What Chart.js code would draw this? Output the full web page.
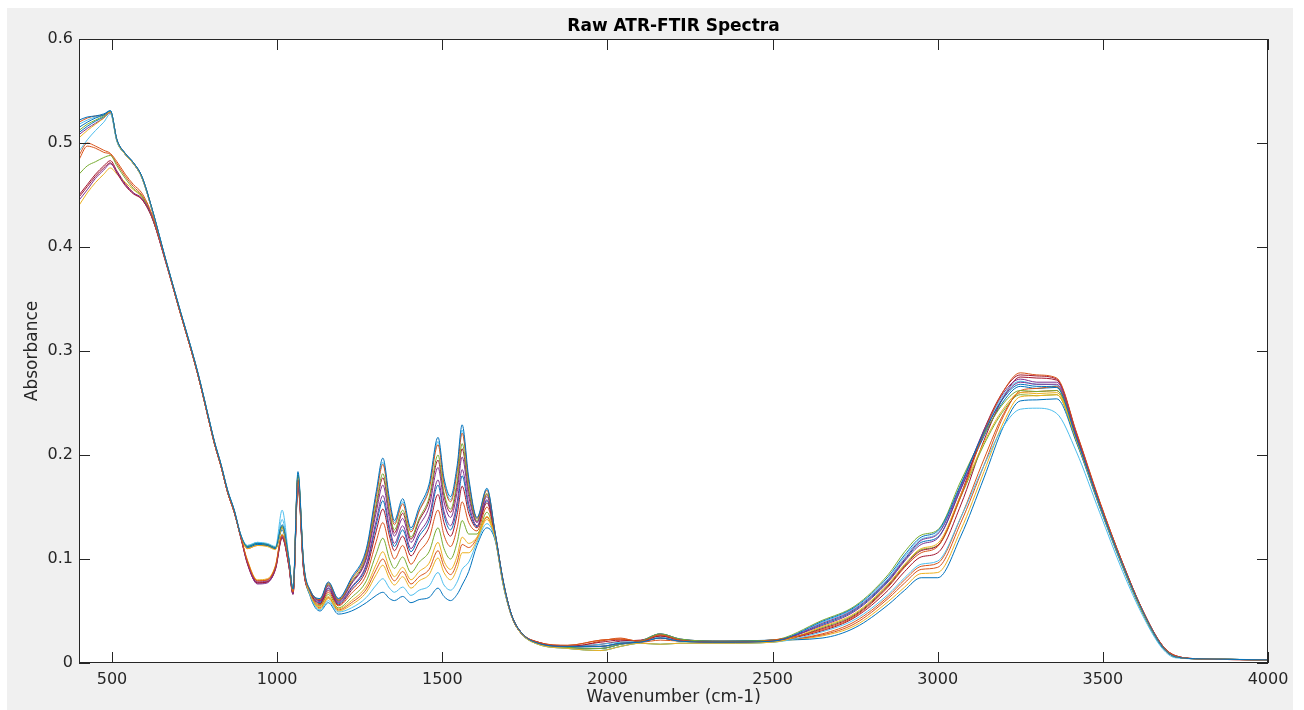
<!DOCTYPE html>
<html>
<head>
<meta charset="utf-8">
<title>Raw ATR-FTIR Spectra</title>
<script src="https://cdn.jsdelivr.net/npm/chart.js@4.4.0/dist/chart.umd.min.js"></script>
<style>
  html, body { margin: 0; padding: 0; background: #ffffff; }
  #wrap { width: 1304px; height: 710px; }
</style>
</head>
<body>
<div id="wrap"><canvas id="spectra" width="1304" height="710"></canvas></div>
<script>
// wavenumber grid (cm-1), denser where the bands are
const wavenumbers = [
  400, 425, 450, 475, 495, 515, 540, 565, 590, 620,
  660, 700, 760, 800, 810, 830, 850, 870, 890,
  910, 940, 970, 995, 1015, 1035, 1048, 1063, 1080,
  1100, 1130, 1155, 1185, 1225, 1270, 1300, 1320, 1340, 1355, 1380, 1405, 1430,
  1460, 1487, 1505, 1525, 1545, 1560, 1580, 1605, 1635, 1660, 1685, 1710, 1740,
  1790, 1880, 1980, 2040, 2100, 2160, 2220, 2350, 2500,
  2650, 2750, 2850, 2900, 2950, 3000, 3070, 3140, 3200, 3250, 3300, 3360,
  3420, 3490, 3560, 3620, 3680, 3720, 3800, 4000
];

const xTicks = [500, 1000, 1500, 2000, 2500, 3000, 3500, 4000];
const yTicks = [0, 0.1, 0.2, 0.3, 0.4, 0.5, 0.6];

// absorbance, one array per spectrum
const spectrum01 = [
  .522, .525, .526, .528, .531, .503, .490, .481, .468, .438,
  .391, .346, .279, .226, .213, .191, .166, .147, .123,
  .112, .115, .114, .111, .133, .101, .071, .184, .097,
  .070, .062, .078, .062, .082, .110, .165, .197, .158, .137, .158, .130, .150,
  .172, .217, .178, .160, .190, .229, .178, .140, .168, .125, .078, .046, .029,
  .019, .016, .016, .019, .020, .024, .021, .020, .021,
  .040, .054, .083, .104, .121, .127, .172, .222, .255, .268, .266, .265,
  .216, .152, .094, .050, .016, .006, .004, .003
];
const spectrum02 = [
  .488, .500, .497, .493, .490, .482, .470, .460, .452, .432,
  .389, .344, .277, .224, .211, .189, .164, .145, .121,
  .098, .079, .080, .093, .123, .096, .068, .176, .092,
  .070, .061, .077, .061, .080, .107, .160, .191, .153, .133, .153, .126, .146,
  .167, .210, .172, .155, .184, .221, .174, .139, .166, .125, .078, .046, .029,
  .020, .017, .022, .023, .021, .027, .022, .020, .022,
  .032, .045, .073, .092, .106, .112, .160, .222, .262, .279, .277, .274,
  .222, .156, .096, .051, .017, .007, .004, .003
];
const spectrum03 = [
  .505, .512, .518, .524, .530, .502, .489, .480, .467, .437,
  .390, .345, .278, .225, .212, .190, .165, .146, .122,
  .110, .113, .112, .109, .130, .099, .069, .178, .094,
  .066, .054, .064, .052, .060, .074, .095, .107, .091, .083, .092, .080, .088,
  .096, .116, .098, .090, .103, .121, .115, .121, .141, .120, .075, .045, .028,
  .018, .014, .012, .016, .019, .018, .019, .019, .020,
  .035, .048, .076, .095, .110, .115, .162, .212, .245, .260, .259, .260,
  .214, .151, .093, .049, .016, .006, .004, .003
];
const spectrum04 = [
  .445, .455, .466, .474, .480, .472, .460, .452, .447, .430,
  .388, .344, .277, .224, .211, .189, .164, .145, .120,
  .096, .076, .077, .091, .121, .094, .066, .170, .089,
  .069, .060, .074, .059, .076, .100, .145, .171, .139, .122, .139, .116, .132,
  .150, .188, .155, .140, .165, .198, .160, .135, .160, .124, .077, .046, .029,
  .019, .016, .016, .019, .020, .024, .021, .020, .021,
  .038, .052, .080, .100, .118, .124, .170, .224, .260, .273, .270, .270,
  .219, .154, .095, .050, .016, .006, .004, .003
];
const spectrum05 = [
  .470, .478, .482, .486, .488, .478, .466, .456, .449, .430,
  .390, .345, .278, .225, .212, .190, .165, .146, .122,
  .112, .115, .114, .111, .131, .100, .070, .181, .095,
  .069, .061, .076, .060, .078, .104, .153, .182, .146, .128, .147, .121, .139,
  .159, .200, .164, .148, .175, .211, .167, .137, .163, .124, .077, .046, .029,
  .019, .015, .014, .018, .021, .028, .023, .021, .022,
  .041, .055, .085, .107, .123, .128, .175, .220, .250, .262, .261, .262,
  .215, .152, .094, .049, .016, .006, .004, .003
];
const spectrum06 = [
  .492, .503, .512, .520, .528, .501, .489, .480, .467, .437,
  .390, .345, .278, .225, .212, .190, .165, .146, .123,
  .113, .116, .115, .112, .147, .102, .071, .176, .094,
  .065, .051, .060, .049, .053, .063, .075, .081, .072, .068, .073, .065, .070,
  .074, .087, .075, .070, .078, .090, .097, .116, .134, .119, .074, .045, .028,
  .018, .014, .012, .016, .019, .018, .019, .019, .020,
  .030, .042, .066, .082, .095, .098, .140, .190, .228, .244, .245, .240,
  .203, .145, .088, .046, .014, .005, .004, .003
];
const spectrum07 = [
  .448, .458, .468, .476, .481, .471, .459, .451, .446, .429,
  .389, .344, .277, .224, .211, .189, .164, .145, .121,
  .095, .077, .078, .090, .120, .094, .066, .172, .090,
  .068, .057, .070, .056, .070, .090, .127, .148, .122, .108, .122, .103, .116,
  .131, .162, .135, .122, .143, .170, .144, .130, .154, .122, .076, .045, .028,
  .020, .016, .020, .022, .021, .026, .022, .020, .021,
  .033, .046, .074, .093, .108, .113, .162, .224, .262, .277, .276, .273,
  .221, .155, .096, .051, .017, .007, .004, .003
];
const spectrum08 = [
  .515, .520, .524, .527, .531, .503, .490, .481, .468, .438,
  .391, .346, .279, .226, .213, .191, .166, .147, .123,
  .111, .114, .113, .110, .128, .099, .069, .176, .093,
  .064, .050, .058, .047, .050, .058, .065, .068, .062, .060, .064, .058, .061,
  .063, .072, .064, .060, .066, .075, .088, .113, .130, .118, .074, .045, .028,
  .019, .015, .014, .018, .021, .028, .023, .021, .022,
  .024, .034, .056, .070, .082, .082, .122, .178, .228, .252, .253, .254,
  .212, .150, .092, .048, .015, .006, .004, .003
];
const spectrum09 = [
  .520, .524, .526, .527, .530, .503, .490, .481, .468, .438,
  .390, .345, .278, .225, .212, .190, .165, .146, .122,
  .110, .113, .113, .110, .131, .100, .070, .179, .095,
  .067, .056, .068, .055, .067, .085, .117, .135, .112, .100, .113, .095, .107,
  .120, .147, .123, .112, .130, .155, .135, .127, .150, .122, .076, .045, .028,
  .020, .017, .022, .023, .021, .027, .022, .020, .022,
  .027, .038, .062, .077, .090, .092, .135, .190, .238, .262, .264, .266,
  .218, .153, .094, .050, .016, .006, .004, .003
];
const spectrum10 = [
  .440, .452, .462, .470, .476, .470, .462, .455, .448, .430,
  .389, .344, .277, .224, .211, .189, .164, .145, .121,
  .099, .080, .081, .094, .124, .096, .068, .168, .090,
  .065, .052, .062, .050, .056, .068, .085, .094, .081, .075, .083, .072, .079,
  .085, .101, .087, .080, .091, .106, .106, .118, .138, .119, .075, .045, .028,
  .019, .016, .016, .019, .020, .024, .021, .020, .021,
  .026, .036, .059, .073, .086, .087, .128, .184, .232, .256, .257, .258,
  .214, .151, .093, .049, .015, .006, .004, .003
];
const spectrum11 = [
  .508, .514, .519, .524, .529, .502, .489, .480, .467, .437,
  .390, .345, .278, .225, .212, .190, .165, .146, .121,
  .097, .078, .079, .092, .122, .095, .067, .174, .091,
  .068, .059, .072, .058, .073, .095, .137, .161, .131, .115, .132, .110, .125,
  .141, .176, .146, .132, .155, .186, .153, .132, .157, .123, .077, .046, .029,
  .019, .015, .014, .018, .021, .028, .023, .021, .022,
  .036, .050, .078, .098, .114, .120, .167, .220, .256, .270, .268, .268,
  .218, .153, .095, .050, .016, .006, .004, .003
];
const spectrum12 = [
  .512, .518, .522, .526, .530, .502, .489, .480, .467, .437,
  .390, .345, .278, .225, .212, .190, .165, .146, .122,
  .112, .115, .113, .110, .132, .100, .070, .180, .095,
  .066, .055, .066, .053, .063, .079, .105, .120, .100, .091, .102, .087, .097,
  .107, .130, .110, .100, .116, .137, .124, .124, .145, .121, .076, .045, .028,
  .018, .014, .012, .016, .019, .018, .019, .019, .020,
  .034, .047, .075, .094, .109, .113, .160, .210, .243, .258, .257, .258,
  .213, .151, .093, .049, .016, .006, .004, .003
];
const spectrum13 = [
  .518, .522, .525, .527, .531, .503, .490, .481, .468, .438,
  .391, .346, .279, .226, .213, .191, .166, .147, .123,
  .113, .116, .114, .111, .138, .101, .071, .182, .096,
  .070, .062, .077, .062, .081, .108, .162, .193, .155, .135, .155, .128, .147,
  .169, .213, .175, .157, .186, .224, .175, .139, .167, .125, .078, .046, .029,
  .019, .016, .018, .020, .021, .025, .022, .020, .021,
  .039, .053, .081, .102, .119, .125, .171, .223, .258, .271, .268, .267,
  .217, .153, .094, .050, .016, .006, .004, .003
];
const spectrum14 = [
  .450, .460, .470, .478, .483, .473, .461, .452, .446, .429,
  .389, .344, .277, .224, .211, .189, .164, .145, .121,
  .096, .077, .078, .091, .121, .095, .067, .174, .091,
  .069, .060, .075, .060, .077, .102, .150, .178, .144, .125, .144, .119, .137,
  .156, .195, .161, .145, .171, .206, .165, .136, .162, .124, .077, .046, .029,
  .020, .016, .018, .021, .022, .026, .022, .021, .022,
  .031, .044, .070, .088, .102, .106, .152, .214, .256, .275, .274, .272,
  .221, .155, .096, .051, .017, .007, .004, .003
];
const spectrum15 = [
  .510, .516, .521, .525, .530, .502, .489, .480, .467, .437,
  .390, .345, .278, .225, .212, .190, .165, .146, .122,
  .111, .114, .113, .110, .130, .100, .070, .179, .095,
  .068, .058, .072, .057, .072, .093, .133, .156, .127, .112, .128, .107, .122,
  .137, .171, .142, .128, .150, .180, .149, .131, .156, .123, .077, .046, .029,
  .019, .016, .016, .019, .020, .024, .021, .020, .021,
  .037, .051, .079, .099, .116, .121, .168, .218, .252, .266, .264, .265,
  .216, .152, .094, .050, .016, .006, .004, .003
];
const spectrum16 = [
  .484, .497, .495, .491, .489, .480, .468, .458, .450, .431,
  .389, .344, .277, .224, .211, .189, .164, .145, .121,
  .098, .079, .080, .093, .123, .096, .068, .170, .091,
  .066, .053, .063, .051, .058, .071, .090, .100, .086, .079, .088, .076, .083,
  .090, .108, .093, .085, .097, .114, .111, .120, .140, .120, .075, .045, .028,
  .019, .015, .021, .024, .020, .022, .021, .020, .021,
  .028, .040, .064, .080, .093, .096, .140, .196, .240, .260, .261, .262,
  .215, .152, .093, .049, .016, .006, .004, .003
];

const spectra = [
  spectrum01, spectrum02, spectrum03, spectrum04, spectrum05, spectrum06, spectrum07, spectrum08,
  spectrum09, spectrum10, spectrum11, spectrum12, spectrum13, spectrum14, spectrum15, spectrum16
];

// MATLAB default colour order
const lineColors = ['#0072BD', '#D95319', '#EDB120', '#7E2F8E', '#77AC30', '#4DBEEE', '#A2142F'];

const AXIS_COLOR = '#262626';
const FONT = '"DejaVu Sans", "Liberation Sans", sans-serif';

const frame = {
  id: 'matlabFrame',
  beforeDraw(chart) {
    const { ctx, chartArea: a } = chart;
    ctx.save();
    ctx.fillStyle = '#ffffff';
    ctx.fillRect(0, 0, chart.width, chart.height);
    ctx.fillStyle = '#f0f0f0';
    ctx.fillRect(7, 8, 1286, 702);
    ctx.fillStyle = '#ffffff';
    ctx.fillRect(a.left, a.top, a.right - a.left, a.bottom - a.top);
    ctx.restore();
  },
  afterDraw(chart) {
    const { ctx, chartArea: a, scales } = chart;
    const tickLen = 11;
    ctx.save();
    ctx.strokeStyle = AXIS_COLOR;
    ctx.lineWidth = 1;
    ctx.beginPath();
    xTicks.forEach((v) => {
      const px = Math.round(scales.x.getPixelForValue(v)) + 0.5;
      ctx.moveTo(px, a.bottom);
      ctx.lineTo(px, a.bottom - tickLen);
      ctx.moveTo(px, a.top);
      ctx.lineTo(px, a.top + tickLen);
    });
    yTicks.forEach((v) => {
      const py = Math.round(scales.y.getPixelForValue(v)) + 0.5;
      ctx.moveTo(a.left, py);
      ctx.lineTo(a.left + tickLen, py);
      ctx.moveTo(a.right, py);
      ctx.lineTo(a.right - tickLen, py);
    });
    ctx.stroke();
    ctx.strokeRect(Math.round(a.left) + 0.5, Math.round(a.top) + 0.5,
      Math.round(a.right - a.left) - 1, Math.round(a.bottom - a.top) - 1);

    const cx = (a.left + a.right) / 2;
    const cy = (a.top + a.bottom) / 2;
    ctx.textAlign = 'center';
    ctx.fillStyle = '#000000';
    ctx.font = `bold 17px ${FONT}`;
    ctx.textBaseline = 'alphabetic';
    ctx.fillText('Raw ATR-FTIR Spectra', cx, 31);

    ctx.fillStyle = AXIS_COLOR;
    ctx.font = `17px ${FONT}`;
    ctx.textBaseline = 'middle';
    ctx.fillText('Wavenumber (cm-1)', cx, 698);

    ctx.translate(33, cy);
    ctx.rotate(-Math.PI / 2);
    ctx.fillText('Absorbance', 0, 0);
    ctx.restore();
  },
};

const datasets = spectra.map((values, i) => ({
  label: `Spectrum ${i + 1}`,
  data: wavenumbers.map((w, j) => ({ x: w, y: values[j] })),
  borderColor: lineColors[i % lineColors.length],
  borderWidth: 1,
  pointRadius: 0,
  fill: false,
  cubicInterpolationMode: 'monotone',
}));

new Chart(document.getElementById('spectra'), {
  type: 'line',
  data: { datasets },
  options: {
    responsive: false,
    animation: false,
    devicePixelRatio: 1,
    layout: { padding: { left: 0, top: 39, right: 36, bottom: 0 } },
    plugins: {
      legend: { display: false },
      tooltip: { enabled: false },
      title: { display: false },
    },
    scales: {
      x: {
        type: 'linear',
        min: 400,
        max: 4000,
        grid: { display: false, drawTicks: false },
        border: { display: false },
        afterBuildTicks: (scale) => { scale.ticks = xTicks.map((v) => ({ value: v })); },
        afterFit: (scale) => { scale.height = 47; },
        ticks: {
          padding: 7,
          maxRotation: 0,
          autoSkip: false,
          color: AXIS_COLOR,
          font: { family: FONT, size: 16 },
          callback: (value) => String(value),
        },
      },
      y: {
        type: 'linear',
        min: 0,
        max: 0.6,
        grid: { display: false, drawTicks: false },
        border: { display: false },
        afterBuildTicks: (scale) => { scale.ticks = yTicks.map((v) => ({ value: v })); },
        afterFit: (scale) => { scale.width = 79; },
        ticks: {
          padding: 6,
          color: AXIS_COLOR,
          font: { family: FONT, size: 16 },
          callback: (value) => (value === 0 ? '0' : value.toFixed(1)),
        },
      },
    },
  },
  plugins: [frame],
});
</script>
</body>
</html>
